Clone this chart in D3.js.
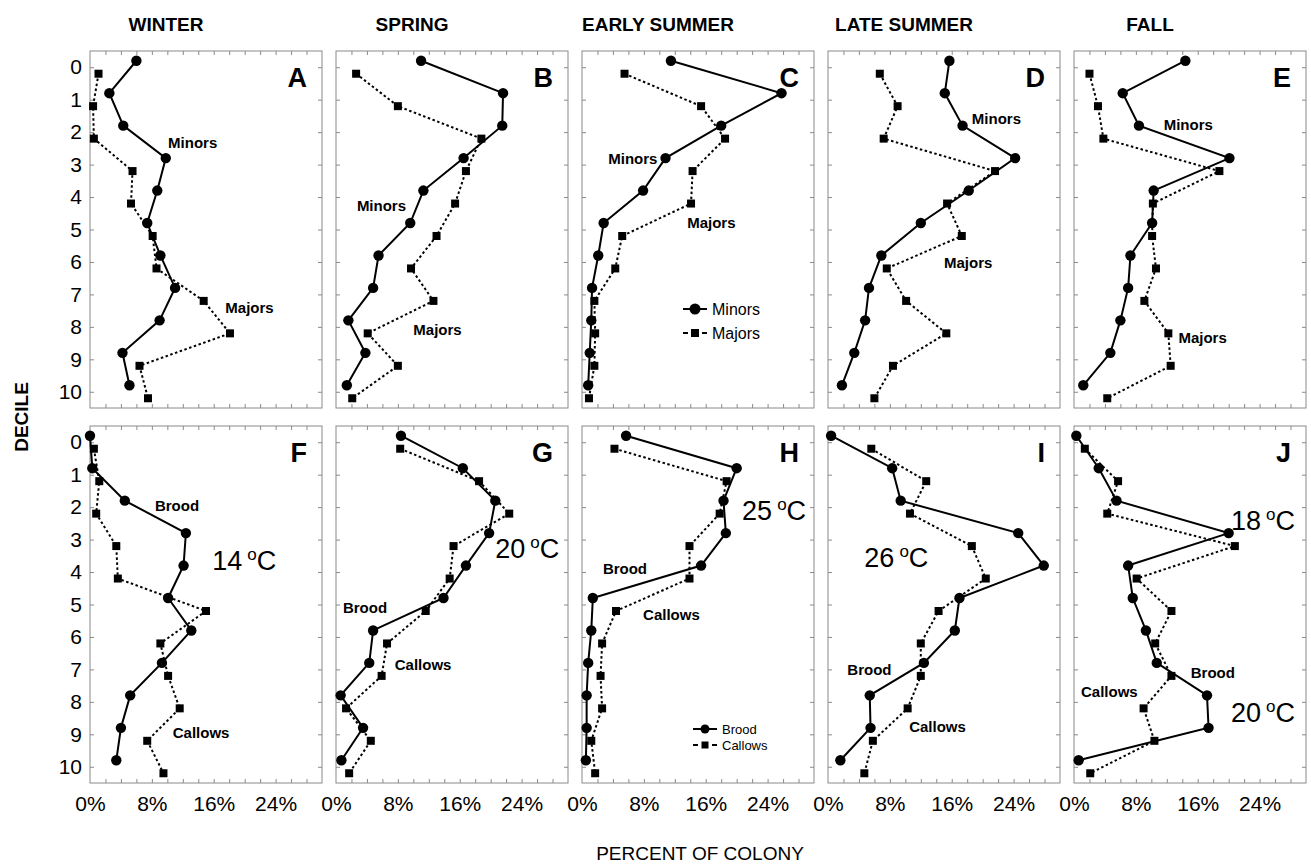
<!DOCTYPE html>
<html>
<head>
<meta charset="utf-8">
<script src="https://cdn.jsdelivr.net/npm/d3@7"></script>
<style>
  body { margin: 0; background: #fff; }
  text { font-family: Arial, "Liberation Sans", sans-serif; fill: #000; }
</style>
</head>
<body>
<div class="chart"></div>
<script>
// Seasonal distribution of workers / brood over the nest deciles

let svgWidth = 1311;
let svgHeight = 864;

let seasons = ["WINTER", "SPRING", "EARLY SUMMER", "LATE SUMMER", "FALL"];
let topLetters = ["A", "B", "C", "D", "E"];
let bottomLetters = ["F", "G", "H", "I", "J"];
let deciles = [0, 1, 2, 3, 4, 5, 6, 7, 8, 9, 10];
let xTickLabels = [0, 8, 16, 24];

// percent of colony in each decile (0..10)
let minors = [
  [6.0, 2.5, 4.3, 9.8, 8.7, 7.4, 9.1, 11.0, 9.0, 4.2, 5.1],
  [11.0, 21.6, 21.5, 16.5, 11.3, 9.6, 5.5, 4.8, 1.6, 3.8, 1.4],
  [11.5, 25.8, 18.0, 10.8, 7.9, 2.8, 2.1, 1.3, 1.2, 1.0, 0.8],
  [15.7, 15.1, 17.4, 24.2, 18.2, 12.0, 6.9, 5.3, 4.8, 3.4, 1.8],
  [14.4, 6.3, 8.4, 20.1, 10.3, 10.1, 7.3, 7.0, 6.0, 4.7, 1.2]
];
let majors = [
  [1.1, 0.4, 0.5, 5.5, 5.3, 8.1, 8.6, 14.7, 18.1, 6.4, 7.5],
  [2.6, 8.0, 18.8, 16.8, 15.4, 13.0, 9.7, 12.6, 4.1, 8.0, 2.1],
  [5.5, 15.4, 18.5, 14.3, 14.1, 5.2, 4.3, 1.6, 1.7, 1.6, 0.9],
  [6.7, 9.0, 7.2, 21.6, 15.4, 17.3, 7.6, 10.1, 15.3, 8.4, 6.0],
  [2.0, 3.1, 3.8, 18.8, 10.2, 10.1, 10.6, 9.1, 12.2, 12.5, 4.3]
];
let brood = [
  [0.0, 0.3, 4.5, 12.4, 12.1, 10.1, 13.1, 9.3, 5.2, 4.0, 3.4],
  [8.4, 16.4, 20.6, 19.8, 16.8, 13.9, 4.8, 4.3, 0.6, 3.5, 0.7],
  [5.7, 20.0, 18.3, 18.6, 15.4, 1.4, 1.2, 0.8, 0.6, 0.6, 0.5],
  [0.4, 8.3, 9.4, 24.6, 27.9, 17.0, 16.4, 12.4, 5.4, 5.5, 1.6],
  [0.3, 3.2, 5.5, 20.0, 7.0, 7.6, 9.3, 10.7, 17.2, 17.4, 0.6]
];
let callows = [
  [0.5, 1.2, 0.8, 3.4, 3.6, 15.0, 9.1, 10.1, 11.6, 7.4, 9.5],
  [8.3, 18.5, 22.4, 15.2, 14.7, 11.6, 6.6, 5.9, 1.3, 4.5, 1.7],
  [4.2, 18.7, 17.8, 13.9, 13.9, 4.4, 2.6, 2.4, 2.6, 1.2, 1.7],
  [5.6, 12.7, 10.6, 18.6, 20.4, 14.3, 12.0, 12.0, 10.3, 5.8, 4.7],
  [1.4, 5.7, 4.3, 20.8, 8.1, 12.6, 10.5, 12.6, 9.0, 10.4, 2.1]
];

// in-panel annotations: [panel row, column, text, percent, decile]
let notes = [
  [0, 0, "Minors", 10.1, 2.49], [0, 0, "Majors", 17.5, 7.57],
  [0, 1, "Minors", 2.7, 4.43], [0, 1, "Majors", 10.0, 8.25],
  [0, 2, "Minors", 3.4, 2.98], [0, 2, "Majors", 13.6, 4.95],
  [0, 3, "Minors", 18.6, 1.75], [0, 3, "Majors", 15.0, 6.19],
  [0, 4, "Minors", 11.6, 1.93], [0, 4, "Majors", 13.5, 8.5],
  [1, 0, "Brood", 8.4, 2.12], [1, 0, "Callows", 10.7, 9.1],
  [1, 1, "Brood", 0.9, 5.26], [1, 1, "Callows", 7.6, 7.02],
  [1, 2, "Brood", 2.7, 4.06], [1, 2, "Callows", 7.9, 5.48],
  [1, 3, "Brood", 2.5, 7.17], [1, 3, "Callows", 10.5, 8.93],
  [1, 4, "Brood", 15.1, 7.26], [1, 4, "Callows", 0.9, 7.85]
];
// temperatures: [column, text, percent, decile]
let temps = [
  [0, "14", 15.8, 3.94], [1, "20", 20.6, 3.57], [2, "25", 20.7, 2.4],
  [3, "26", 4.7, 3.84], [4, "18", 20.3, 2.7], [4, "20", 20.3, 8.62]
];

let panelW = 232;
let panelH = 357;
let panelLeft = 90;
let panelStep = 246;
let rowTops = [51, 426];

let svg = d3.select(".chart")
  .append("svg")
  .attr("width", svgWidth)
  .attr("height", svgHeight);

let x = d3.scaleLinear().domain([0, 30]).range([0, panelW]);
let y = d3.scaleLinear().domain([-0.5, 10.5]).range([0, panelH]);

let lineGen = d3.line().x(d => x(d[0])).y(d => y(d[1]));

function styleAxis(g) {
  g.select(".domain").remove();
  g.selectAll(".tick line").attr("stroke", "#8a8a8a");
}

function drawPanel(row, col) {
  let g = svg.append("g")
    .attr("transform", `translate(${panelLeft + col * panelStep}, ${rowTops[row]})`);

  let minorTicks = d3.range(2, 30, 2);
  g.append("g").attr("transform", `translate(0, ${panelH})`)
    .call(d3.axisTop(x).tickValues(minorTicks).tickSize(4).tickFormat(""))
    .call(styleAxis);
  g.append("g")
    .call(d3.axisBottom(x).tickValues(minorTicks).tickSize(4).tickFormat(""))
    .call(styleAxis);
  g.append("g")
    .call(d3.axisRight(y).tickValues(deciles).tickSize(4).tickFormat(""))
    .call(styleAxis);
  g.append("g").attr("transform", `translate(${panelW}, 0)`)
    .call(d3.axisLeft(y).tickValues(deciles).tickSize(4).tickFormat(""))
    .call(styleAxis);

  g.append("rect")
    .attr("width", panelW).attr("height", panelH)
    .attr("fill", "none").attr("stroke", "#8a8a8a").attr("stroke-width", 1);

  if (row === 1) {
    let xl = g.append("g").attr("transform", `translate(0, ${panelH})`)
      .call(d3.axisBottom(x).tickValues(xTickLabels).tickSize(0).tickPadding(13)
        .tickFormat(d => d + "%"));
    xl.select(".domain").remove();
    xl.selectAll("text").style("font-size", "21px").style("font-family", "Arial, 'Liberation Sans', sans-serif");
  }
  if (col === 0) {
    let yl = g.append("g")
      .call(d3.axisLeft(y).tickValues(deciles).tickSize(0).tickPadding(8));
    yl.select(".domain").remove();
    yl.selectAll("text").style("font-size", "21px").style("font-family", "Arial, 'Liberation Sans', sans-serif");
  }

  let solid = row === 0 ? minors[col] : brood[col];
  let dotted = row === 0 ? majors[col] : callows[col];
  let solidPts = deciles.map((d, i) => [solid[i], d - 0.2]);
  let dottedPts = deciles.map((d, i) => [dotted[i], d + 0.2]);

  g.append("path").datum(dottedPts)
    .attr("d", lineGen).attr("fill", "none")
    .attr("stroke", "#000").attr("stroke-width", 2)
    .attr("stroke-dasharray", "2.5,2.5");
  g.append("path").datum(solidPts)
    .attr("d", lineGen).attr("fill", "none")
    .attr("stroke", "#000").attr("stroke-width", 2);

  g.selectAll(".sq").data(dottedPts).enter()
    .append("rect")
    .attr("x", d => x(d[0]) - 4).attr("y", d => y(d[1]) - 4)
    .attr("width", 8).attr("height", 8).attr("fill", "#000");
  g.selectAll(".dot").data(solidPts).enter()
    .append("circle")
    .attr("cx", d => x(d[0])).attr("cy", d => y(d[1]))
    .attr("r", 5.2).attr("fill", "#000");

  g.append("text")
    .attr("x", panelW - 15).attr("y", 36)
    .attr("text-anchor", "end")
    .style("font-size", "27px").style("font-weight", "bold")
    .text(row === 0 ? topLetters[col] : bottomLetters[col]);

  notes.filter(n => n[0] === row && n[1] === col).forEach(n => {
    g.append("text")
      .attr("x", x(n[3])).attr("y", y(n[4]))
      .style("font-size", "15px").style("font-weight", "bold")
      .text(n[2]);
  });

  if (row === 1) {
    temps.filter(t => t[0] === col).forEach(t => {
      let tx = g.append("text")
        .attr("x", x(t[2])).attr("y", y(t[3]))
        .style("font-size", "27px");
      tx.append("tspan").text(t[1]);
      tx.append("tspan").attr("dx", 5).attr("dy", -10).style("font-size", "17px").text("o");
      tx.append("tspan").attr("dy", 10).text("C");
    });
  }
  return g;
}

let panels = [];
for (let r = 0; r < 2; r++) {
  for (let c = 0; c < 5; c++) {
    panels.push(drawPanel(r, c));
  }
}

// legends in panels C and H
function legend(g, lx, ly, gap, size, names, markR, sq) {
  // solid row
  g.append("line").attr("x1", lx).attr("x2", lx + 24).attr("y1", ly).attr("y2", ly)
    .attr("stroke", "#000").attr("stroke-width", 2);
  g.append("circle").attr("cx", lx + 12).attr("cy", ly).attr("r", markR).attr("fill", "#000");
  g.append("text").attr("x", lx + 29).attr("y", ly).attr("dy", "0.35em")
    .style("font-size", size + "px").text(names[0]);
  // dashed row
  let y2 = ly + gap;
  g.append("line").attr("x1", lx).attr("x2", lx + 5).attr("y1", y2).attr("y2", y2)
    .attr("stroke", "#000").attr("stroke-width", 2);
  g.append("line").attr("x1", lx + 19).attr("x2", lx + 24).attr("y1", y2).attr("y2", y2)
    .attr("stroke", "#000").attr("stroke-width", 2);
  g.append("rect").attr("x", lx + 12 - sq / 2).attr("y", y2 - sq / 2)
    .attr("width", sq).attr("height", sq).attr("fill", "#000");
  g.append("text").attr("x", lx + 29).attr("y", y2).attr("dy", "0.35em")
    .style("font-size", size + "px").text(names[1]);
}
legend(panels[2], 101, 258, 24, 16, ["Minors", "Majors"], 5.5, 8);
legend(panels[7], 111, 303, 16, 13, ["Brood", "Callows"], 4.5, 7);

// column headers
seasons.forEach((s, i) => {
  svg.append("text")
    .attr("x", panelLeft + i * panelStep + 76)
    .attr("y", 31)
    .attr("text-anchor", "middle")
    .style("font-size", "19px").style("font-weight", "bold")
    .text(s);
});

// axis titles
svg.append("text")
  .attr("transform", "translate(28, 417) rotate(-90)")
  .attr("text-anchor", "middle")
  .style("font-size", "19px").style("font-weight", "bold")
  .text("DECILE");

svg.append("text")
  .attr("x", 700).attr("y", 860)
  .attr("text-anchor", "middle")
  .style("font-size", "19px")
  .text("PERCENT OF COLONY");
</script>
</body>
</html>
